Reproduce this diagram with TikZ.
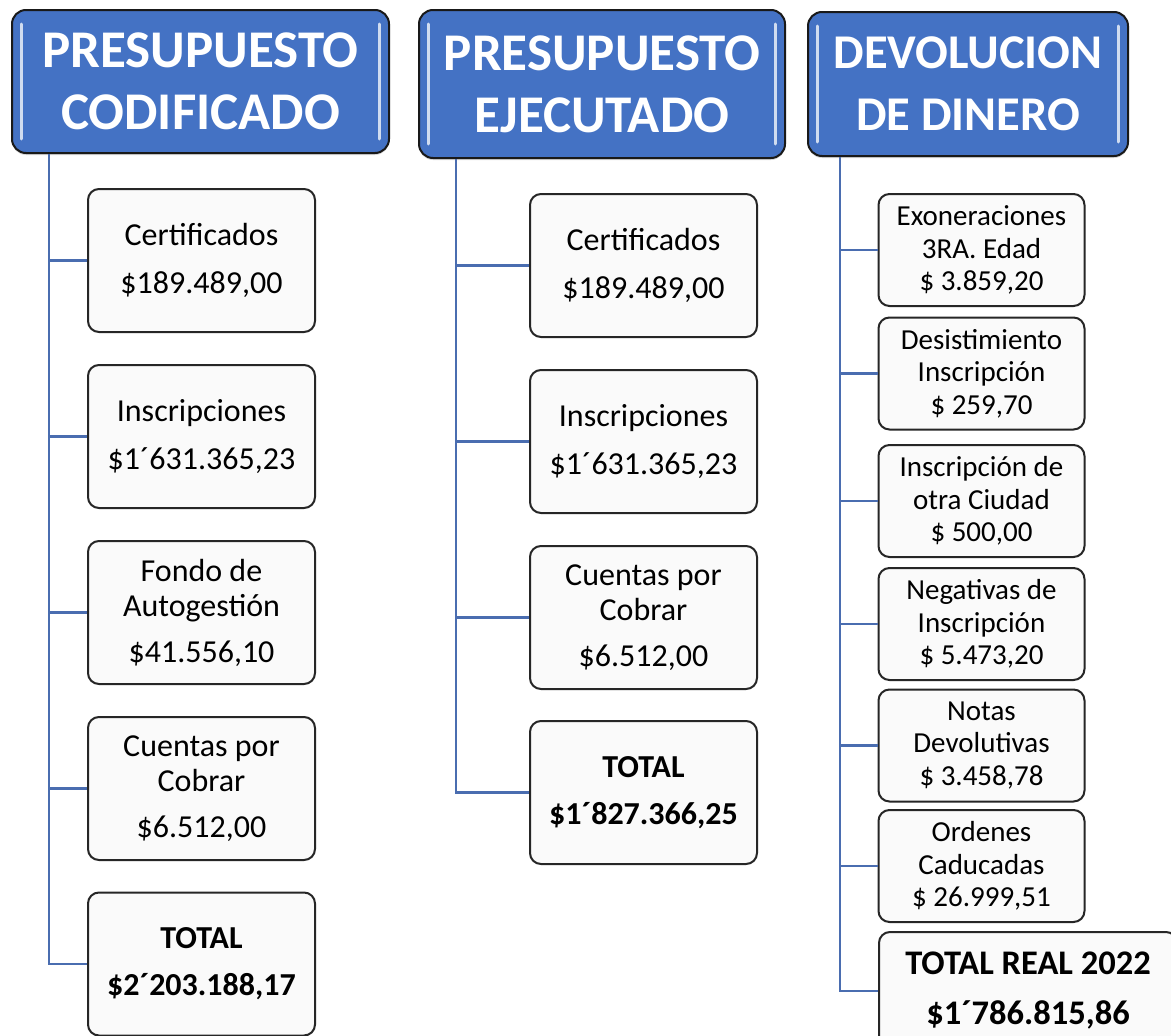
\documentclass[tikz,border=0pt]{standalone}
\usepackage{fontspec}
\setmainfont{Carlito}
\usetikzlibrary{shadows}

\definecolor{azul}{HTML}{4472C4}
\definecolor{rama}{HTML}{4A6DB0}

\tikzset{
  titulo/.style={draw=black!90, line width=2pt, fill=azul, rounded corners=14pt, text=white,
    font=\fontsize{53}{62}\selectfont\bfseries, align=center, inner sep=0pt,
    drop shadow={shadow xshift=0pt, shadow yshift=-2pt, opacity=0.3}},
  brillo/.style={draw=azul!25!white, line width=3pt, line cap=round},
  cajita/.style={draw=black!85, line width=2pt, fill=black!2, rounded corners=11pt,
    font=\fontsize{32}{35}\selectfont, align=center, inner sep=0pt,
    minimum width=227pt, minimum height=143pt},
  cajitad/.style={cajita, font=\fontsize{29}{32.5}\selectfont,
    minimum width=206pt, minimum height=112pt},
  linea/.style={draw=rama, line width=2.6pt}
}

\begin{document}
\begin{tikzpicture}[x=1pt, y=-1pt]
  \path[use as bounding box, fill=white] (0,0) rectangle (1171,1036);

  \node[titulo, minimum width=377pt, minimum height=143pt] (cod) at (200.5,81.5) {PRESUPUESTO\\CODIFICADO};
  \node[titulo, minimum width=366pt, minimum height=148pt] (eje) at (602,84) {PRESUPUESTO\\EJECUTADO};
  \node[titulo, minimum width=320pt, minimum height=144pt, font=\fontsize{48.5}{62}\selectfont\bfseries]
    (dev) at (968,84) {DEVOLUCION\\DE DINERO};
  \foreach \h in {cod,eje,dev} {
    \draw[brillo] ([xshift=10pt,yshift=-15pt]\h.north west) -- ([xshift=10pt,yshift=15pt]\h.south west);
    \draw[brillo] ([xshift=-11pt,yshift=-15pt]\h.north east) -- ([xshift=-11pt,yshift=15pt]\h.south east);
  }

  \coordinate (tc) at ([xshift=38pt]cod.south west);
  \coordinate (te) at ([xshift=38pt]eje.south west);
  \coordinate (td) at ([xshift=33pt]dev.south west);

  % presupuesto codificado
  \def\cs{260.5/{Certificados\\[13pt]\$189.489,00},
          436.5/{Inscripciones\\[13pt]\$1´631.365,23},
          612.5/{Fondo de\\Autogestión\\[11pt]\$41.556,10},
          788.5/{Cuentas por\\Cobrar\\[11pt]\$6.512,00},
          964/{\bfseries TOTAL\\[12pt]\bfseries\$2´203.188,17}}
  \foreach \y/\t [count=\i from 1] in \cs {\node[cajita] (c\i) at (201.5,\y) {\t};}
  \foreach \i in {1,...,5} {\draw[linea] (tc) |- (c\i.west);}

  % presupuesto ejecutado
  \def\es{265.5/{Certificados\\[13pt]\$189.489,00},
          441.5/{Inscripciones\\[13pt]\$1´631.365,23},
          617.5/{Cuentas por\\Cobrar\\[11pt]\$6.512,00},
          792.5/{\bfseries TOTAL\\[12pt]\bfseries\$1´827.366,25}}
  \foreach \y/\t [count=\i from 1] in \es {\node[cajita] (e\i) at (643.5,\y) {\t};}
  \foreach \i in {1,...,4} {\draw[linea] (te) |- (e\i.west);}

  % devolucion de dinero
  \def\ds{250/{Exoneraciones\\3RA. Edad\\\$ 3.859,20},
          373.5/{Desistimiento\\Inscripción\\\$ 259,70},
          501/{Inscripción de\\otra Ciudad\\\$ 500,00},
          624/{Negativas de\\Inscripción\\\$ 5.473,20},
          745.5/{Notas\\Devolutivas\\\$ 3.458,78},
          866/{Ordenes\\Caducadas\\\$ 26.999,51}}
  \foreach \y/\t [count=\i from 1] in \ds {\node[cajitad] (d\i) at (981.5,\y) {\t};}
  \node[cajita, minimum width=298pt, minimum height=118pt, font=\fontsize{34.5}{37}\selectfont\bfseries]
    (d7) at (1028,991) {TOTAL REAL 2022\\[13pt]\$1´786.815,86};
  \foreach \i in {1,...,7} {\draw[linea] (td) |- (d\i.west);}
\end{tikzpicture}
\end{document}
